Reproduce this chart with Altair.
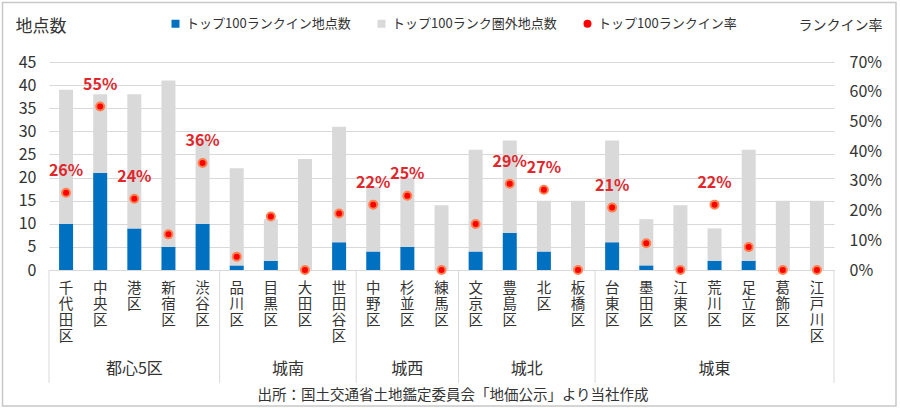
import altair as alt
import pandas as pd

# ---- data ----
wards = ["千代田区", "中央区", "港区", "新宿区", "渋谷区",
         "品川区", "目黒区", "大田区", "世田谷区",
         "中野区", "杉並区", "練馬区",
         "文京区", "豊島区", "北区", "板橋区",
         "台東区", "墨田区", "江東区", "荒川区", "足立区", "葛飾区", "江戸川区"]
groups = (["都心5区"] * 5 + ["城南"] * 4 + ["城西"] * 3 + ["城北"] * 4 + ["城東"] * 7)
group_names = ["都心5区", "城南", "城西", "城北", "城東"]
ranked = [10, 21, 9, 5, 10, 1, 2, 0, 6, 4, 5, 0, 4, 8, 4, 0, 6, 1, 0, 2, 2, 0, 0]
totals = [39, 38, 38, 41, 28, 22, 11, 24, 31, 18, 20, 14, 26, 28, 15, 15, 28, 11, 14, 9, 26, 15, 15]
rates = [0.26, 0.55, 0.24, 0.12, 0.36, 0.045, 0.18, 0.0, 0.19, 0.22, 0.25, 0.0,
         0.155, 0.29, 0.27, 0.0, 0.21, 0.09, 0.0, 0.22, 0.077, 0.0, 0.0]
rate_labels = ["26%", "55%", "24%", "", "36%", "", "", "", "", "22%", "25%", "",
               "", "29%", "27%", "", "21%", "", "", "22%", "", "", ""]
left_ticks = [0, 5, 10, 15, 20, 25, 30, 35, 40, 45]
right_ticks = [0, 0.1, 0.2, 0.3, 0.4, 0.5, 0.6, 0.7]

S_IN = "トップ100ランクイン地点数"
S_OUT = "トップ100ランク圏外地点数"
S_RATE = "トップ100ランクイン率"
source_text = "出所：国土交通省土地鑑定委員会「地価公示」より当社作成"

FONT = "Noto Sans CJK JP"
TXT = "#333333"
GRID = "#D9D9D9"
W, H = 785, 208

df = pd.DataFrame({"ward": wards, "group": groups, "ranked": ranked,
                   "total": totals, "rate": rates, "label": rate_labels})

x_scale = alt.Scale(domain=wards, paddingInner=0, paddingOuter=0)
x_axis = alt.Axis(title=None, labelAngle=0, labelExpr="split(datum.label, '')",
                  labelBaseline="top", labelAlign="center", labelPadding=11,
                  labelFontSize=14.5, labelLineHeight=16, labelFont=FONT, labelColor=TXT,
                  ticks=False, domainColor=GRID, labelOverlap=False, labelBound=False)


def xenc(band=0.5):
    return alt.X("ward:N", scale=x_scale, axis=x_axis, bandPosition=band)


series_domain = [S_IN, S_OUT, S_RATE]
color_scale = alt.Scale(domain=series_domain, range=["#0070C0", "#D9D9D9", "#FF0000"])
shape_scale = alt.Scale(domain=series_domain, range=["square", "square", "circle"])

bars = alt.Chart(df).transform_calculate(
    out="datum.total - datum.ranked"
).transform_fold(["ranked", "out"], as_=["key", "value"]).transform_calculate(
    series=f"datum.key == 'ranked' ? '{S_IN}' : '{S_OUT}'",
    ord="datum.key == 'ranked' ? 0 : 1",
).mark_bar(size=14).encode(
    x=xenc(),
    y=alt.Y("value:Q", stack="zero", scale=alt.Scale(domain=[0, 45], nice=False),
            axis=alt.Axis(values=left_ticks, title="地点数", titleAngle=0, titleAlign="left",
                          titleBaseline="middle", titleX=-34, titleY=-36, titleFontSize=17,
                          titleFont=FONT, titleFontWeight="normal", titleColor=TXT,
                          labelFontSize=16, labelFont=FONT, labelColor=TXT, labelPadding=13,
                          ticks=False, domain=False, grid=True, gridColor=GRID)),
    color=alt.Color("series:N", scale=color_scale, legend=alt.Legend(title=None)),
    order=alt.Order("ord:Q"),
)

rate_y = alt.Y("rate:Q", scale=alt.Scale(domain=[0, 0.7], nice=False),
               axis=alt.Axis(orient="right", values=right_ticks, format=".0%", grid=False,
                             ticks=False, domain=False, labelAlign="left", labelPadding=15,
                             labelFontSize=16, labelFont=FONT, labelColor=TXT,
                             title="ランクイン率", titleAngle=0, titleAlign="left",
                             titleBaseline="middle", titleX=-36, titleY=-37,
                             titleFontSize=14, titleFont=FONT, titleFontWeight="normal",
                             titleColor=TXT))

points = alt.Chart(df).transform_calculate(series=f"'{S_RATE}'").mark_point(
    filled=True, size=64, stroke="#FF8050", strokeWidth=2, opacity=1
).encode(
    x=xenc(), y=rate_y,
    color=alt.Color("series:N", scale=color_scale, legend=alt.Legend(title=None)),
    shape=alt.Shape("series:N", scale=shape_scale, legend=alt.Legend(title=None)),
)

labels = alt.Chart(df).mark_text(
    dy=-22, fontWeight="bold", fontSize=16, color="#E0272C", font=FONT
).encode(x=xenc(), y=rate_y, text="label:N")

rate_layer = alt.layer(points, labels)

# group separators and group labels
firsts, anchors_mid, anchors_edge = [], [], []
for g in group_names:
    members = [w for w, gg in zip(wards, groups) if gg == g]
    firsts.append(members[0])
    n = len(members)
    if n % 2 == 1:
        anchors_mid.append({"ward": members[n // 2], "g": g})
    else:
        anchors_edge.append({"ward": members[n // 2], "g": g})

sep_start = alt.Chart(pd.DataFrame({"ward": firsts})).mark_rule(color=GRID, strokeWidth=1).encode(
    x=xenc(0), y=alt.value(H), y2=alt.value(H + 113))
sep_end = alt.Chart(pd.DataFrame({"ward": [wards[-1]]})).mark_rule(color=GRID, strokeWidth=1).encode(
    x=xenc(1), y=alt.value(H), y2=alt.value(H + 113))

glab_mid = alt.Chart(pd.DataFrame(anchors_mid)).mark_text(
    fontSize=16, font=FONT, color=TXT, baseline="middle").encode(
    x=xenc(0.5), y=alt.value(H + 99), text="g:N")
glab_edge = alt.Chart(pd.DataFrame(anchors_edge)).mark_text(
    fontSize=16, font=FONT, color=TXT, baseline="middle").encode(
    x=xenc(0), y=alt.value(H + 99), text="g:N")

source = alt.Chart(pd.DataFrame({"t": [source_text]})).mark_text(
    fontSize=14.5, font=FONT, color=TXT, baseline="middle", align="center").encode(
    x=alt.value(404), y=alt.value(334), text="t:N")

frame = alt.Chart(pd.DataFrame({"f": [0]})).mark_rect(
    fillOpacity=0, stroke="#C8C8C8", strokeWidth=1.5).encode(
    x=alt.value(-46.5), x2=alt.value(W + 62), y=alt.value(-59.5), y2=alt.value(H + 136))

chart = alt.layer(
    frame, bars, rate_layer, sep_start, sep_end, glab_mid, glab_edge, source
).resolve_scale(y="independent").properties(
    width=W, height=H,
    autosize=alt.AutoSizeParams(type="none"),
    padding={"left": 49, "top": 62, "right": 66, "bottom": 140},
    background="white",
).configure_view(stroke=None).configure_legend(
    orient="none", legendX=120, legendY=-45, direction="horizontal", columns=3,
    labelFontSize=13, labelFont=FONT, labelColor=TXT, labelLimit=0, symbolSize=64,
    symbolStrokeWidth=0, columnPadding=24, padding=0, labelOffset=4,
)

chart.save("out.html", embed_options={"renderer": "svg", "actions": False})
